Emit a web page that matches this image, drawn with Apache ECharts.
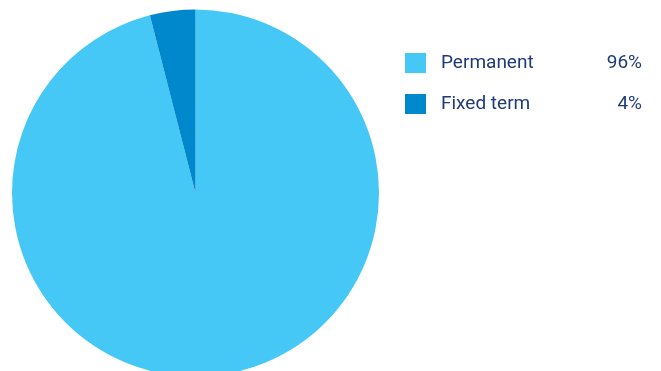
<!DOCTYPE html>
<html lang="en">
<head>
<meta charset="UTF-8">
<title>Employment type</title>
<script src="https://cdn.jsdelivr.net/npm/echarts@6/dist/echarts.min.js"></script>
<style>
body{ margin:0; background:#fff; }
#chart{ width:661px; height:371px; }
</style>
</head>
<body>
<div id="chart"></div>
<script>
var categories = ['Permanent', 'Fixed term'];
var values = [96, 4];
var colors = ['#45c8f5', '#0088cc'];

var data = categories.map(function(name, i){
    return { name: name, value: values[i], itemStyle: { color: colors[i] } };
});

var chart = echarts.init(document.getElementById('chart'));
chart.setOption({
    animation: false,
    legend: {
        orient: 'vertical',
        left: 405,
        top: 53,
        padding: 0,
        itemWidth: 21,
        itemHeight: 20,
        itemGap: 21,
        icon: 'rect',
        selectedMode: false,
        formatter: function(name){
            var i = categories.indexOf(name);
            return '{n|' + name + '}{v|' + values[i] + '%}';
        },
        textStyle: {
            padding: [0, 0, 0, 10],
            rich: {
                n: { width: 140, fontSize: 19, color: '#1f3a78', fontFamily: 'Roboto' },
                v: { width: 61, align: 'right', fontSize: 19, color: '#1f3a78', fontFamily: 'Roboto' }
            }
        }
    },
    series: [{
        type: 'pie',
        center: [195.5, 193],
        radius: 183.5,
        startAngle: 90,
        clockwise: true,
        label: { show: false },
        labelLine: { show: false },
        emphasis: { disabled: true },
        data: data
    }]
});
</script>
</body>
</html>
